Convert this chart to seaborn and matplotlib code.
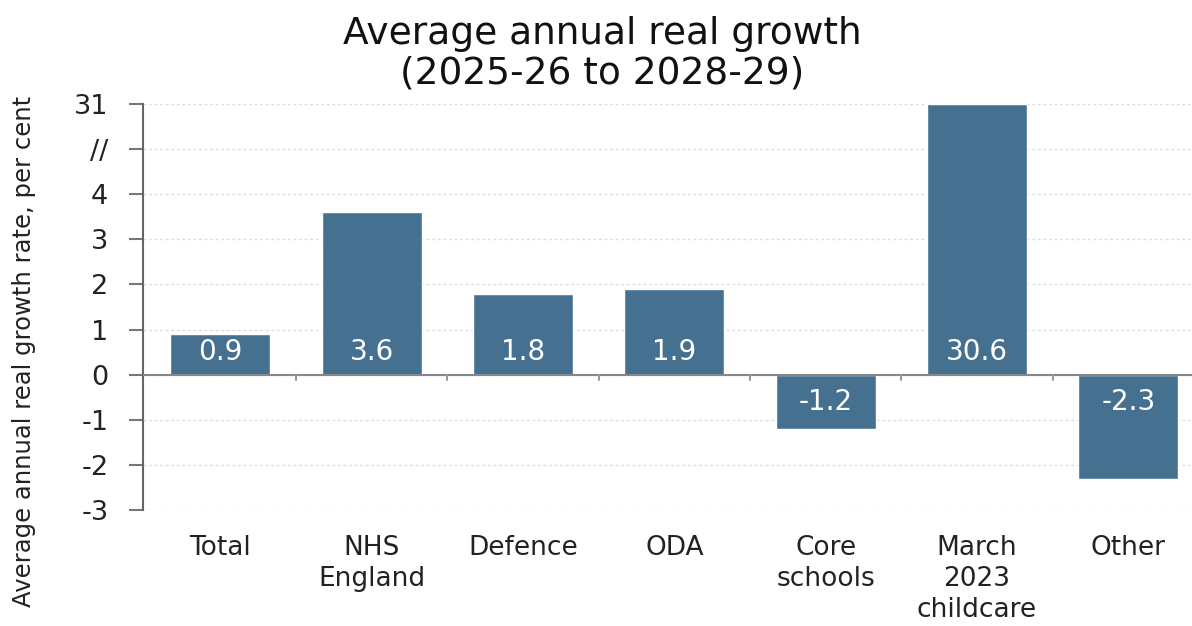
import matplotlib
matplotlib.use("Agg")
import matplotlib.pyplot as plt
import seaborn as sns
import pandas as pd
import numpy as np

categories = ["Total", "NHS\nEngland", "Defence", "ODA", "Core\nschools", "March\n2023\nchildcare", "Other"]
values = [0.9, 3.6, 1.8, 1.9, -1.2, 30.6, -2.3]
ytick_vals = [-3, -2, -1, 0, 1, 2, 3, 4, 5, 6]
ytick_labels = ["-3", "-2", "-1", "0", "1", "2", "3", "4", "//", "31"]
axis_break_top = 6  # scale position that represents 31
title = "Average annual real growth\n(2025-26 to 2028-29)"
ylabel = "Average annual real growth rate, per cent"

bar_color = "#46708f"
plotted = [min(v, axis_break_top) for v in values]
df = pd.DataFrame({"cat": categories, "val": plotted})

sns.set_theme(style="white")
plt.rcParams["font.family"] = ["DejaVu Sans"]

fig = plt.figure(figsize=(11.92, 6.26), dpi=100)
ax = fig.add_axes([0.12, 0.185, 0.88, 0.649])

sns.barplot(data=df, x="cat", y="val", color=bar_color, width=0.66,
            saturation=1, ax=ax, zorder=3)

ax.set_ylim(-3, 6)
ax.set_xlim(-0.51, 6.42)
ax.set_yticks(ytick_vals)
ax.set_yticklabels(ytick_labels, fontsize=19.5, color="#222222")
for y in ytick_vals:
    ax.axhline(y, color="#dddddd", lw=1, ls=(0, (2, 2)), zorder=1)
ax.axhline(0, color="#888888", lw=1.5, zorder=4)
for b in np.arange(0.5, len(categories) - 1, 1.0):
    ax.plot([b, b], [0, -0.12], color="#999999", lw=1.5, zorder=4)

for s in ["top", "right", "bottom"]:
    ax.spines[s].set_visible(False)
ax.spines["left"].set_color("#666666")
ax.spines["left"].set_linewidth(1.5)
ax.tick_params(axis="y", direction="out", length=10, width=1.5, color="#777777", pad=15, left=True)
ax.tick_params(axis="x", length=0, pad=18)
ax.set_xticks(range(len(categories)))
ax.set_xticklabels(categories, fontsize=19, color="#222222", linespacing=1.24, va="top")
ax.set_xlabel("")
ax.set_ylabel(ylabel, fontsize=17.5, color="#222222")
ax.yaxis.set_label_coords(-0.102, 0.39)

for i, v in enumerate(values):
    ypos = 0.5 if v > 0 else -0.6
    ax.text(i, ypos, f"{v:.1f}", ha="center", va="center", color="white",
            fontsize=20, zorder=5)

fig.text(0.505, 0.975, title, fontsize=27, color="#111111", ha="center", va="top",
         linespacing=1.15, multialignment="center")

fig.savefig("out.png", dpi=100)
